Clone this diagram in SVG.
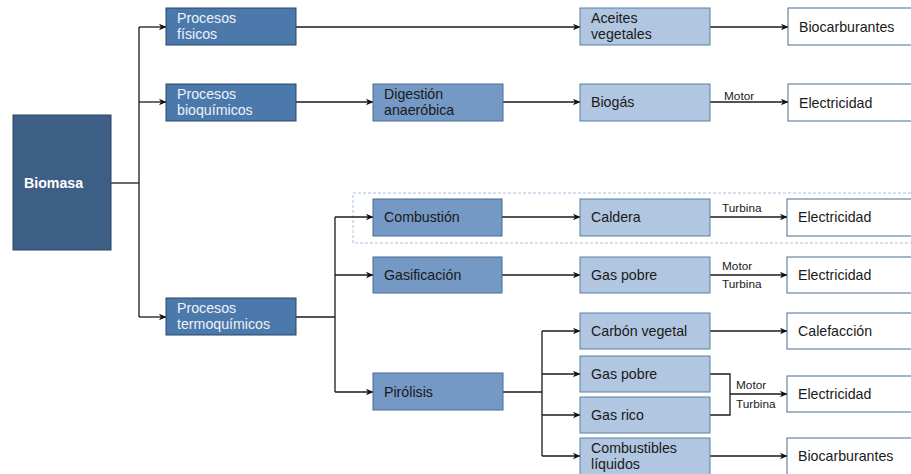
<svg xmlns="http://www.w3.org/2000/svg" width="911" height="474" viewBox="0 0 911 474">
<defs>
<marker id="arr" markerWidth="8" markerHeight="8" refX="7" refY="4" orient="auto" markerUnits="userSpaceOnUse">
<path d="M0,0.8 L7.5,4 L0,7.2 L2,4 Z" fill="#111"/>
</marker>
<style>
text{font-family:"Liberation Sans",Arial,sans-serif;font-size:14.2px;fill:#1a1a1a}
.lbl{font-size:11.8px}
.inv{fill:#EEF2F8}
.b{font-weight:bold;fill:#fff}
.root{fill:#3D5E85;stroke:#2A4464;stroke-width:1}
.proc{fill:#4C79AC;stroke:#2B4565;stroke-width:1}
.mid{fill:#7399C4;stroke:#4A6B93;stroke-width:1}
.lt{fill:#B1C6E0;stroke:#5B7EA6;stroke-width:1}
.out{fill:#fff;stroke:#4D6D93;stroke-width:1}
.c path,.c line{fill:none;stroke:#1a1a1a;stroke-width:1.3}
.ar{marker-end:url(#arr)}
</style>
</defs>
<rect x="353" y="193" width="560" height="50" fill="none" stroke="#A9C0DF" stroke-width="1" stroke-dasharray="3,2"/>
<g class="c" id="connectors">
<path d="M111,183 H139"/>
<path d="M139,27 V317"/>
<line class="ar" x1="139" y1="27" x2="166" y2="27"/>
<line class="ar" x1="139" y1="102" x2="166" y2="102"/>
<line class="ar" x1="139" y1="317" x2="166" y2="317"/>
<line class="ar" x1="296" y1="27" x2="580" y2="27"/>
<line class="ar" x1="710" y1="27" x2="788" y2="27"/>
<line class="ar" x1="296" y1="102" x2="373" y2="102"/>
<line class="ar" x1="503" y1="102" x2="580" y2="102"/>
<line class="ar" x1="710" y1="102" x2="788" y2="102"/>
<path d="M296,317 H335"/>
<path d="M335,217 V392"/>
<line class="ar" x1="335" y1="217" x2="373" y2="217"/>
<line class="ar" x1="335" y1="275" x2="373" y2="275"/>
<line class="ar" x1="335" y1="392" x2="373" y2="392"/>
<line class="ar" x1="502" y1="217" x2="580" y2="217"/>
<line class="ar" x1="502" y1="275" x2="580" y2="275"/>
<line class="ar" x1="710" y1="217" x2="787" y2="217"/>
<line class="ar" x1="710" y1="275" x2="787" y2="275"/>
<path d="M503,392 H542"/>
<path d="M542,331 V456"/>
<line class="ar" x1="542" y1="331" x2="580" y2="331"/>
<line class="ar" x1="542" y1="374" x2="580" y2="374"/>
<line class="ar" x1="542" y1="415" x2="580" y2="415"/>
<line class="ar" x1="542" y1="456" x2="580" y2="456"/>
<line class="ar" x1="710" y1="331" x2="787" y2="331"/>
<path d="M710,374 H730 V415 H710"/>
<line class="ar" x1="730" y1="394" x2="787" y2="394"/>
<line class="ar" x1="710" y1="456" x2="787" y2="456"/>
<text class="lbl" x="724" y="100">Motor</text>
<text class="lbl" x="722" y="212">Turbina</text>
<text class="lbl" x="722" y="270">Motor</text>
<text class="lbl" x="722" y="288">Turbina</text>
<text class="lbl" x="736" y="389">Motor</text>
<text class="lbl" x="736" y="408">Turbina</text>
</g>
<g id="biomasa"><rect class="root" x="13" y="115" width="98" height="135"/><text class="b" x="24" y="188">Biomasa</text></g>
<g id="fisicos"><rect class="proc" x="166" y="8" width="130" height="37"/><text class="inv" x="177" y="23">Procesos</text><text class="inv" x="177" y="39">físicos</text></g>
<g id="bioquimicos"><rect class="proc" x="166" y="84" width="130" height="37"/><text class="inv" x="177" y="99">Procesos</text><text class="inv" x="177" y="115">bioquímicos</text></g>
<g id="termoquimicos"><rect class="proc" x="166" y="298" width="130" height="37"/><text class="inv" x="177" y="313">Procesos</text><text class="inv" x="177" y="329">termoquímicos</text></g>
<g id="digestion"><rect class="mid" x="373" y="84" width="130" height="37"/><text x="384" y="99">Digestión</text><text x="384" y="115">anaeróbica</text></g>
<g id="combustion"><rect class="mid" x="373" y="199" width="129" height="37"/><text x="384" y="222">Combustión</text></g>
<g id="gasificacion"><rect class="mid" x="373" y="257" width="129" height="36"/><text x="384" y="280">Gasificación</text></g>
<g id="pirolisis"><rect class="mid" x="373" y="373" width="130" height="37"/><text x="384" y="397">Pirólisis</text></g>
<g id="aceites"><rect class="lt" x="580" y="8" width="130" height="37"/><text x="591" y="23">Aceites</text><text x="591" y="39">vegetales</text></g>
<g id="biogas"><rect class="lt" x="580" y="84" width="130" height="37"/><text x="591" y="107">Biogás</text></g>
<g id="caldera"><rect class="lt" x="580" y="199" width="130" height="37"/><text x="591" y="222">Caldera</text></g>
<g id="gaspobre1"><rect class="lt" x="580" y="257" width="130" height="36"/><text x="591" y="280">Gas pobre</text></g>
<g id="carbon"><rect class="lt" x="580" y="313" width="130" height="36"/><text x="591" y="336">Carbón vegetal</text></g>
<g id="gaspobre2"><rect class="lt" x="580" y="356" width="130" height="36"/><text x="591" y="379">Gas pobre</text></g>
<g id="gasrico"><rect class="lt" x="580" y="397" width="130" height="36"/><text x="591" y="420">Gas rico</text></g>
<g id="liquidos"><rect class="lt" x="580" y="438" width="130" height="40"/><text x="591" y="453">Combustibles</text><text x="591" y="469">líquidos</text></g>
<g id="biocarb1"><rect class="out" x="788" y="8" width="130" height="37"/><text x="799" y="32">Biocarburantes</text></g>
<g id="elec1"><rect class="out" x="788" y="84" width="130" height="37"/><text x="799" y="108">Electricidad</text></g>
<g id="elec2"><rect class="out" x="787" y="199" width="130" height="37"/><text x="798" y="222">Electricidad</text></g>
<g id="elec3"><rect class="out" x="787" y="257" width="130" height="36"/><text x="798" y="280">Electricidad</text></g>
<g id="calef"><rect class="out" x="787" y="313" width="130" height="36"/><text x="798" y="336">Calefacción</text></g>
<g id="elec4"><rect class="out" x="787" y="376" width="130" height="36"/><text x="798" y="399">Electricidad</text></g>
<g id="biocarb2"><rect class="out" x="787" y="438" width="130" height="40"/><text x="798" y="461">Biocarburantes</text></g>
</svg>
